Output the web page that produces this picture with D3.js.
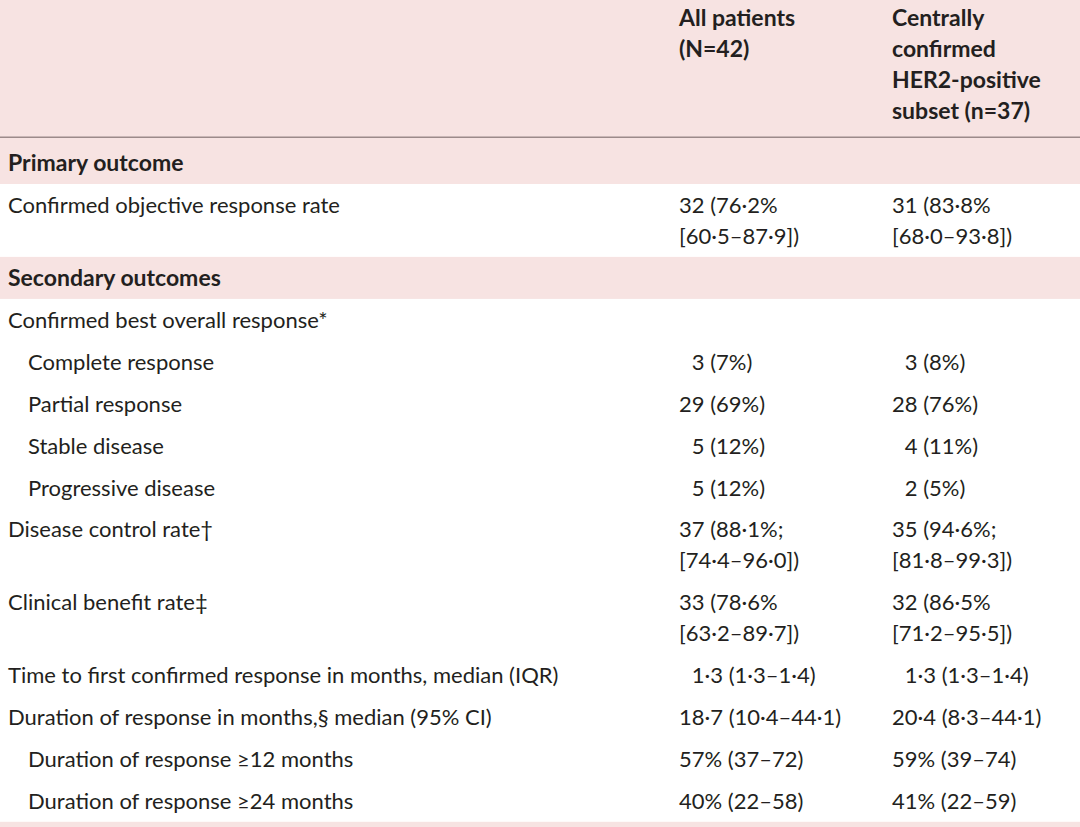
<!DOCTYPE html>
<html>
<head>
<meta charset="utf-8">
<script src="https://cdn.jsdelivr.net/npm/d3@7"></script>
<style>
  html, body { margin: 0; padding: 0; background: #fff; }
  svg { display: block; }
  text { font-family: Lato, "Open Sans", sans-serif; fill: #231f20; }
</style>
</head>
<body>
<svg id="table"></svg>
<script>
const colHeaders = [
  [],
  ["All patients", "(N=42)"],
  ["Centrally", "confirmed", "HER2-positive", "subset (n=37)"]
];

const rowLabels = [
  "Primary outcome",
  "Confirmed objective response rate",
  "Secondary outcomes",
  "Confirmed best overall response*",
  "Complete response",
  "Partial response",
  "Stable disease",
  "Progressive disease",
  "Disease control rate\u2020",
  "Clinical benefit rate\u2021",
  "Time to first confirmed response in months, median (IQR)",
  "Duration of response in months,\u00a7 median (95% CI)",
  "Duration of response \u226512 months",
  "Duration of response \u226524 months"
];

const rowKinds = ["section", "row", "section", "row", "sub", "sub", "sub", "sub",
  "row", "row", "row", "row", "sub", "sub"];

const allPatients = [
  [],
  ["32 (76\u00b72%", "[60\u00b75\u201387\u00b79])"],
  [],
  [],
  ["\u20073 (7%)"],
  ["29 (69%)"],
  ["\u20075 (12%)"],
  ["\u20075 (12%)"],
  ["37 (88\u00b71%;", "[74\u00b74\u201396\u00b70])"],
  ["33 (78\u00b76%", "[63\u00b72\u201389\u00b77])"],
  ["\u20071\u00b73 (1\u00b73\u20131\u00b74)"],
  ["18\u00b77 (10\u00b74\u201344\u00b71)"],
  ["57% (37\u201372)"],
  ["40% (22\u201358)"]
];

const her2Subset = [
  [],
  ["31 (83\u00b78%", "[68\u00b70\u201393\u00b78])"],
  [],
  [],
  ["\u20073 (8%)"],
  ["28 (76%)"],
  ["\u20074 (11%)"],
  ["\u20072 (5%)"],
  ["35 (94\u00b76%;", "[81\u00b78\u201399\u00b73])"],
  ["32 (86\u00b75%", "[71\u00b72\u201395\u00b75])"],
  ["\u20071\u00b73 (1\u00b73\u20131\u00b74)"],
  ["20\u00b74 (8\u00b73\u201344\u00b71)"],
  ["59% (39\u201374)"],
  ["41% (22\u201359)"]
];

const width = 1080, height = 827;
const headerHeight = 137;
const lineHeight = 31;
const fontSize = 22;
const boldSize = 23;
const pink = "#f7e3e2";

const svg = d3.select("#table")
  .attr("width", width)
  .attr("height", height);

// column x positions
const x = d3.scaleOrdinal()
  .domain([0, 1, 2])
  .range([8, 679, 892]);

// row heights depend on line count and kind
const rows = rowLabels.map((label, i) => {
  const n = Math.max(1, allPatients[i].length, her2Subset[i].length);
  let h = 10.9 + lineHeight * n;
  if (rowKinds[i] === "section") h = i === 0 ? 46 : 42;
  return {label, kind: rowKinds[i], cells: [allPatients[i], her2Subset[i]], h, i};
});
const tops = [headerHeight + 1, ...d3.cumsum(rows, r => r.h).map(v => v + headerHeight + 1)];
rows.forEach((r, i) => { r.y = tops[i]; });

// header band
svg.append("rect")
  .attr("x", 0).attr("y", 0)
  .attr("width", width).attr("height", headerHeight)
  .attr("fill", pink);

svg.append("line")
  .attr("x1", 0).attr("x2", width)
  .attr("y1", headerHeight + 0.5).attr("y2", headerHeight + 0.5)
  .attr("stroke", "#9c8a8a")
  .attr("stroke-width", 2);

svg.append("g")
  .selectAll("text")
  .data(colHeaders)
  .join("text")
  .attr("font-size", boldSize)
  .attr("font-weight", "bold")
  .selectAll("tspan")
  .data((d, i) => d.map(t => ({t, i})))
  .join("tspan")
  .attr("x", d => x(d.i))
  .attr("y", (d, j) => 26 + j * lineHeight)
  .text(d => d.t);

// section bands
svg.append("g")
  .selectAll("rect")
  .data(rows.filter(r => r.kind === "section"))
  .join("rect")
  .attr("x", 0)
  .attr("y", d => d.y)
  .attr("width", width)
  .attr("height", d => d.h)
  .attr("fill", pink);

// bottom strip
const last = rows[rows.length - 1];
svg.append("rect")
  .attr("x", 0)
  .attr("y", last.y + last.h)
  .attr("width", width)
  .attr("height", height - (last.y + last.h))
  .attr("fill", pink);

const rowG = svg.append("g")
  .selectAll("g")
  .data(rows)
  .join("g")
  .attr("transform", d => `translate(0,${d.y})`);

rowG.append("text")
  .attr("x", d => d.kind === "sub" ? 28 : x(0))
  .attr("y", d => d.kind === "section" ? (d.i === 0 ? 33 : 29) : 29)
  .attr("font-size", d => d.kind === "section" ? boldSize : fontSize)
  .attr("font-weight", d => d.kind === "section" ? "bold" : "normal")
  .text(d => d.label);

rowG.selectAll("text.cell")
  .data(d => d.cells.map((lines, c) => ({lines, c: c + 1})))
  .join("text")
  .attr("class", "cell")
  .attr("font-size", fontSize)
  .attr("xml:space", "preserve")
  .selectAll("tspan")
  .data(d => d.lines.map(t => ({t, c: d.c})))
  .join("tspan")
  .attr("x", d => x(d.c))
  .attr("y", (d, j) => 29 + j * lineHeight)
  .text(d => d.t);
</script>
</body>
</html>
